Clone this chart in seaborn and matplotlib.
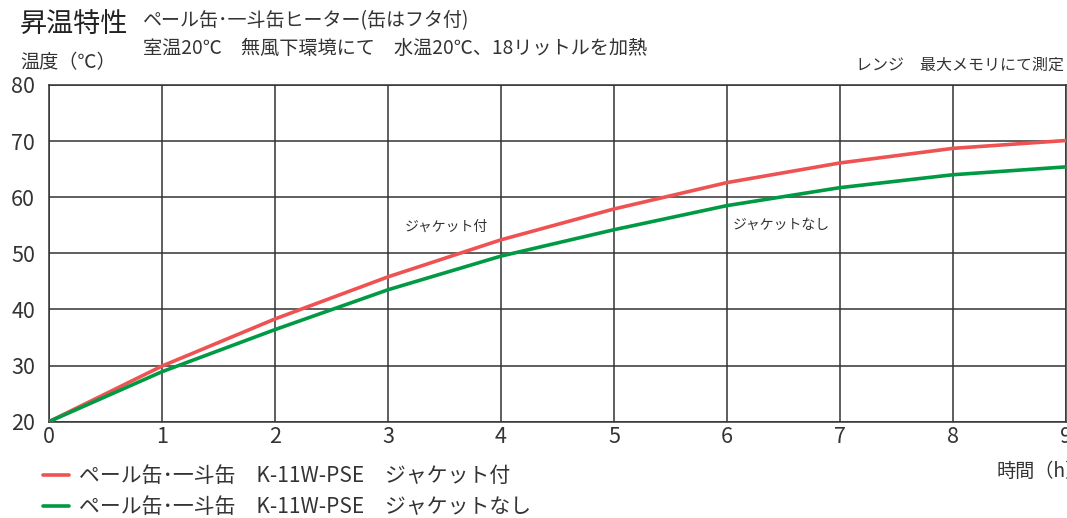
import matplotlib
matplotlib.use("Agg")
import matplotlib.pyplot as plt
import pandas as pd
import seaborn as sns

# hours and temperatures
hours = [0, 1, 2, 3, 4, 5, 6, 7, 8, 9]
temp_jacket = [20, 29.9, 38.3, 45.8, 52.4, 57.9, 62.6, 66.1, 68.7, 70.1]
temp_no_jacket = [20, 28.9, 36.4, 43.5, 49.5, 54.2, 58.5, 61.7, 64.0, 65.4]

label_jacket = "ペール缶･一斗缶　K-11W-PSE　ジャケット付"
label_no_jacket = "ペール缶･一斗缶　K-11W-PSE　ジャケットなし"
series_colors = {label_jacket: "#ee5252", label_no_jacket: "#009a44"}

y_ticks = [20, 30, 40, 50, 60, 70, 80]
x_ticks = hours

sns.set_theme(style="white")
plt.rcParams["font.family"] = ["Noto Sans CJK JP", "DejaVu Sans"]

df = pd.concat([
    pd.DataFrame({"hour": hours, "temp": temp_jacket, "series": label_jacket}),
    pd.DataFrame({"hour": hours, "temp": temp_no_jacket, "series": label_no_jacket}),
])

fig = plt.figure(figsize=(10.67, 5.18), dpi=100)
ax = fig.add_axes([0.0459, 0.186, 0.9531, 0.650])

sns.lineplot(data=df, x="hour", y="temp", hue="series", palette=series_colors,
             linewidth=2.6, ax=ax, legend=True, zorder=3)

ax.set_xlim(0, 9)
ax.set_ylim(20, 80)
ax.set_xticks(x_ticks)
ax.set_yticks(y_ticks)
ax.grid(True, color="#333333", linewidth=1.1)
for s in ax.spines.values():
    s.set_color("#333333")
    s.set_linewidth(1.1)
ax.tick_params(axis="both", length=0, labelsize=15.5, labelcolor="#333333")
ax.tick_params(axis="x", pad=3)
ax.tick_params(axis="y", pad=10)
ax.set_xlabel("")
ax.set_ylabel("")

ax.text(3.15, 54.0, "ジャケット付", fontsize=10, color="#333333")
ax.text(6.05, 54.4, "ジャケットなし", fontsize=10, color="#333333")

fig.text(20 / 1067, 1 - 25 / 518, "昇温特性", fontsize=19.5, va="center", color="#222222")
fig.text(143 / 1067, 1 - 21 / 518, "ペール缶･一斗缶ヒーター(缶はフタ付)", fontsize=13.7,
         va="center", color="#333333")
fig.text(143 / 1067, 1 - 48 / 518, "室温20℃　無風下環境にて　水温20℃、18リットルを加熱",
         fontsize=13.8, va="center", color="#333333")
fig.text(20 / 1067, 1 - 63 / 518, "温度（℃）", fontsize=13.8, va="center", color="#333333")
fig.text(1064 / 1067, 1 - 65 / 518, "レンジ　最大メモリにて測定", fontsize=11.5,
         va="center", ha="right", color="#333333")
fig.text(997 / 1067, 1 - 471 / 518, "時間（h）", fontsize=13.8, va="center", ha="left",
         color="#333333")

leg = ax.legend(loc="upper left", bbox_to_anchor=(43 / 1067, 1 - 465 / 518),
                bbox_transform=fig.transFigure, frameon=False, fontsize=15,
                handlelength=1.25, handletextpad=0.5, labelspacing=0.45,
                borderaxespad=0, borderpad=0)
for t in leg.get_texts():
    t.set_color("#333333")

fig.savefig("out.png", dpi=100)
